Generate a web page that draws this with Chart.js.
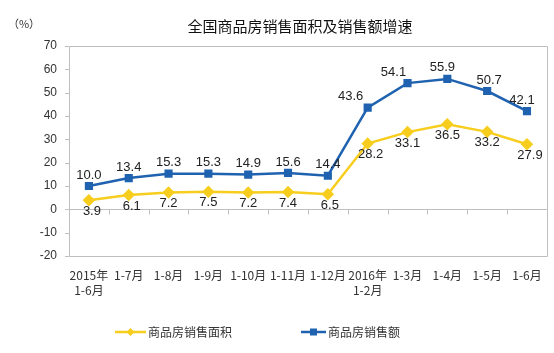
<!DOCTYPE html>
<html>
<head>
<meta charset="utf-8">
<script src="https://cdn.jsdelivr.net/npm/chart.js@4/dist/chart.umd.min.js"></script>
<style>
  html, body { margin: 0; padding: 0; background: #fff; }
  #wrap { width: 554px; height: 353px; }
</style>
</head>
<body>
<div id="wrap"><canvas id="chart" width="554" height="353"></canvas></div>
<script>
const categories = [
  ["2015年", "1-6月"], "1-7月", "1-8月", "1-9月", "1-10月", "1-11月", "1-12月",
  ["2016年", "1-2月"], "1-3月", "1-4月", "1-5月", "1-6月"
];
const areaGrowth = [3.9, 6.1, 7.2, 7.5, 7.2, 7.4, 6.5, 28.2, 33.1, 36.5, 33.2, 27.9];
const salesGrowth = [10.0, 13.4, 15.3, 15.3, 14.9, 15.6, 14.4, 43.6, 54.1, 55.9, 50.7, 42.1];
const yTicks = [70, 60, 50, 40, 30, 20, 10, 0, -10, -20];

const BLUE = "#1f62b0";
const YELLOW = "#f7cd1e";
const AXIS = "#bfbfbf";
const TEXT = "#222";

// small horizontal nudges so labels don't sit on the rising line
const salesLabelDx = [0, 0, 0, 0, 0, 0, 0, -17, -14, -5, 2, -5];
const areaLabelDx = [3, 3, 0, 0, 0, 0, 2, 3, 0, 0, 0, 3];

const chartFrame = {
  id: "chartFrame",
  beforeDatasetsDraw(chart) {
    const { ctx, chartArea: a, scales } = chart;
    const y0 = scales.y.getPixelForValue(0);
    ctx.save();
    ctx.strokeStyle = AXIS;
    ctx.lineWidth = 1;
    ctx.beginPath();
    ctx.rect(Math.round(a.left) + 0.5, Math.round(a.top) + 0.5,
      Math.round(a.right - a.left), Math.round(a.bottom - a.top));
    ctx.stroke();
    // zero line with tick marks between categories
    const yz = Math.round(y0) + 0.5;
    ctx.beginPath();
    ctx.moveTo(a.left, yz);
    ctx.lineTo(a.right, yz);
    const step = (a.right - a.left) / categories.length;
    for (let i = 1; i < categories.length; i++) {
      const x = Math.round(a.left + i * step) + 0.5;
      ctx.moveTo(x, yz);
      ctx.lineTo(x, yz + 5);
    }
    // y tick marks
    yTicks.forEach((v) => {
      const y = Math.round(scales.y.getPixelForValue(v)) + 0.5;
      ctx.moveTo(a.left - 4, y);
      ctx.lineTo(a.left, y);
    });
    ctx.stroke();
    ctx.restore();
  },
  afterDatasetsDraw(chart) {
    const { ctx } = chart;
    ctx.save();
    ctx.font = "13px 'Liberation Sans', Arial, sans-serif";
    ctx.fillStyle = TEXT;
    ctx.textAlign = "center";
    ctx.textBaseline = "middle";
    chart.getDatasetMeta(1).data.forEach((pt, i) => {
      ctx.fillText(salesGrowth[i].toFixed(1), pt.x + salesLabelDx[i], pt.y - 11);
    });
    chart.getDatasetMeta(0).data.forEach((pt, i) => {
      ctx.fillText(areaGrowth[i].toFixed(1), pt.x + areaLabelDx[i], pt.y + 11);
    });

    // title and unit
    ctx.font = "15px 'Noto Sans CJK SC', sans-serif";
    ctx.fillStyle = "#111";
    ctx.fillText("全国商品房销售面积及销售额增速", 300, 26);
    ctx.font = "11px 'Noto Sans CJK SC', sans-serif";
    ctx.fillStyle = "#333";
    ctx.fillText("（%）", 24, 24);

    // legend
    const items = [
      { x1: 115, x2: 146, color: YELLOW, style: "diamond", text: "商品房销售面积" },
      { x1: 301, x2: 326, color: BLUE, style: "square", text: "商品房销售额" },
    ];
    const ly = 332;
    items.forEach((it) => {
      ctx.strokeStyle = it.color;
      ctx.fillStyle = it.color;
      ctx.lineWidth = 2.5;
      ctx.beginPath();
      ctx.moveTo(it.x1, ly);
      ctx.lineTo(it.x2, ly);
      ctx.stroke();
      const cx = (it.x1 + it.x2) / 2;
      ctx.beginPath();
      if (it.style === "diamond") {
        ctx.moveTo(cx, ly - 4);
        ctx.lineTo(cx + 4, ly);
        ctx.lineTo(cx, ly + 4);
        ctx.lineTo(cx - 4, ly);
        ctx.closePath();
      } else {
        ctx.rect(cx - 3.5, ly - 3.5, 7, 7);
      }
      ctx.fill();
      ctx.font = "12px 'Noto Sans CJK SC', sans-serif";
      ctx.fillStyle = "#333";
      ctx.textAlign = "left";
      ctx.fillText(it.text, it.x2 + 2, ly);
    });
    ctx.restore();
  }
};

new Chart(document.getElementById("chart"), {
  type: "line",
  data: {
    labels: categories,
    datasets: [
      {
        label: "商品房销售面积",
        data: areaGrowth,
        borderColor: YELLOW,
        backgroundColor: YELLOW,
        borderWidth: 2.5,
        pointStyle: "rectRot",
        pointRadius: 4.5,
        pointHoverRadius: 4.5,
        tension: 0,
      },
      {
        label: "商品房销售额",
        data: salesGrowth,
        borderColor: BLUE,
        backgroundColor: BLUE,
        borderWidth: 2.5,
        pointStyle: "rect",
        pointRadius: 4,
        pointHoverRadius: 4,
        tension: 0,
      },
    ],
  },
  options: {
    responsive: false,
    animation: false,
    layout: { padding: { left: 0, top: 46, right: 7, bottom: 0 } },
    plugins: {
      legend: { display: false },
      title: { display: false },
      tooltip: { enabled: false },
    },
    scales: {
      x: {
        offset: true,
        grid: { display: false, drawTicks: false },
        border: { display: false },
        ticks: {
          color: "#333",
          font: { family: "'Noto Sans CJK SC', sans-serif", size: 12, lineHeight: 1.25 },
          maxRotation: 0,
          autoSkip: false,
          padding: 12,
        },
        afterFit(scale) { scale.height = 97; },
      },
      y: {
        min: -20,
        max: 70,
        grid: { display: false, drawTicks: false },
        border: { display: false },
        afterBuildTicks(scale) { scale.ticks = yTicks.map((v) => ({ value: v })); },
        ticks: {
          color: "#333",
          font: { family: "'Liberation Sans', Arial, sans-serif", size: 12 },
          padding: 12,
        },
        afterFit(scale) { scale.width = 69; },
      },
    },
  },
  plugins: [chartFrame],
});
</script>
</body>
</html>
